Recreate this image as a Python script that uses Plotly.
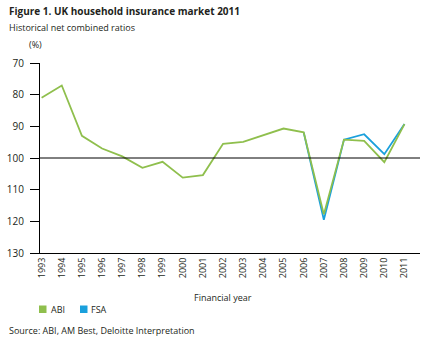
import plotly.graph_objects as go

years = [str(y) for y in range(1993, 2012)]
abi = [81.0, 77.1, 93.0, 97.0, 99.5, 103.1, 101.2, 106.2, 105.4, 95.5,
       94.9, 92.8, 90.7, 91.9, 117.8, 94.2, 94.6, 101.3, 89.3]
fsa_years = [str(y) for y in range(2006, 2012)]
fsa = [91.9, 119.5, 94.2, 92.5, 98.8, 89.3]
y_ticks = [70, 80, 90, 100, 110, 120, 130]
series_names = ["ABI", "FSA"]

GREEN = "#8fbf4d"
BLUE = "#1aa0dc"
FONT = "Open Sans"
TXT = "#231f20"

fig = go.Figure()
fig.add_trace(go.Scatter(x=fsa_years, y=fsa, mode="lines", name=series_names[1],
                         line=dict(color=BLUE, width=1.8), showlegend=False, hoverinfo="skip"))
fig.add_trace(go.Scatter(x=years, y=abi, mode="lines", name=series_names[0],
                         line=dict(color=GREEN, width=1.8), showlegend=False, hoverinfo="skip"))

fig.add_shape(type="line", xref="paper", yref="y", x0=0, x1=1, y0=100, y1=100,
              line=dict(color="black", width=1))

W, H = 425, 342
L, R, T, B = 40, 5, 63, 89
pw, ph = W - L - R, H - T - B

def px(x):
    return (x - L) / pw

def py(y):
    return (H - B - y) / ph

# legend swatches
for (x0, col) in [(39, GREEN), (80, BLUE)]:
    fig.add_shape(type="rect", xref="paper", yref="paper",
                  x0=px(x0), x1=px(x0 + 7.5), y0=py(313), y1=py(305.5),
                  fillcolor=col, line=dict(width=0))

annots = [
    dict(text="<b>Figure 1. UK household insurance market 2011</b>", x=px(7), y=py(11),
         xanchor="left", yanchor="middle", font=dict(size=10, color=TXT)),
    dict(text="Historical net combined ratios", x=px(7), y=py(27),
         xanchor="left", yanchor="middle", font=dict(size=9, color=TXT)),
    dict(text="(%)", x=px(35), y=py(45), xanchor="center", yanchor="middle",
         font=dict(size=9, color=TXT)),
    dict(text="Financial year", x=px(223), y=py(297), xanchor="center", yanchor="middle",
         font=dict(size=9, color=TXT)),
    dict(text="Source: ABI, AM Best, Deloitte Interpretation", x=px(7), y=py(330),
         xanchor="left", yanchor="middle", font=dict(size=9, color=TXT)),
    dict(text=series_names[0], x=px(48.5), y=py(309.5), xanchor="left", yanchor="middle",
         font=dict(size=9, color=TXT)),
    dict(text=series_names[1], x=px(89), y=py(309.5), xanchor="left", yanchor="middle",
         font=dict(size=9, color=TXT)),
]
for a in annots:
    a.update(xref="paper", yref="paper", showarrow=False)

fig.update_layout(
    width=W, height=H,
    margin=dict(l=L, r=R, t=T, b=B),
    paper_bgcolor="white", plot_bgcolor="white",
    font=dict(family=FONT, size=9, color=TXT),
    annotations=annots,
    showlegend=False,
    xaxis=dict(type="category", categoryorder="array", categoryarray=years,
               range=[-0.08, 18.77], showgrid=False, zeroline=False,
               showline=True, linecolor="black", linewidth=1,
               ticks="", tickangle=-90, tickfont=dict(size=9, color=TXT)),
    yaxis=dict(range=[130, 70], tickvals=y_ticks, showgrid=False, zeroline=False,
               showline=True, linecolor="black", linewidth=1,
               ticks="outside", ticklen=9, tickcolor="black", tickwidth=1,
               ticklabelstandoff=4,
               tickfont=dict(size=10, color=TXT)),
)

fig.write_html("out.html")
